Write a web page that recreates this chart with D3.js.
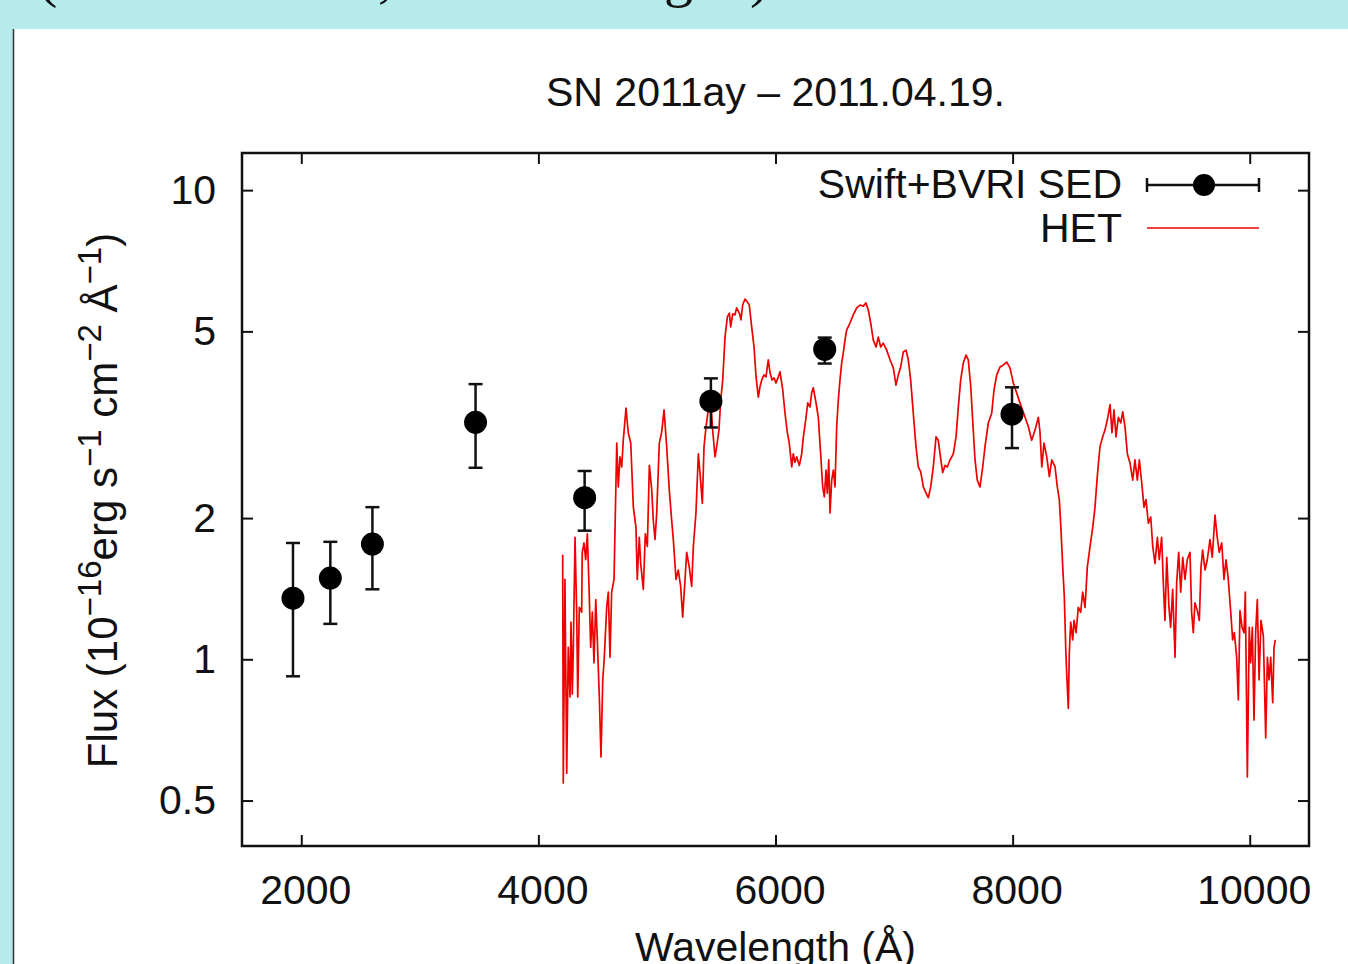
<!DOCTYPE html>
<html>
<head>
<meta charset="utf-8">
<script src="https://cdnjs.cloudflare.com/ajax/libs/d3/7.8.5/d3.min.js"></script>
<style>
  html, body { margin: 0; padding: 0; background: #b7ebeb; }
  svg { display: block; }
  text { font-family: "Liberation Sans", Arial, sans-serif; fill: #111; }
</style>
</head>
<body>
<svg width="1348" height="964"></svg>
<script>
// SED points (Swift UVOT + BVRI)
var sedWave = [1930, 2245, 2600, 3470, 4390, 5455, 6415, 7995];
var sedFlux = [1.35, 1.49, 1.76, 3.20, 2.21, 3.55, 4.58, 3.33];
var sedLow  = [0.92, 1.19, 1.41, 2.56, 1.88, 3.12, 4.27, 2.82];
var sedHigh = [1.77, 1.78, 2.11, 3.86, 2.52, 3.97, 4.85, 3.80];

// HET spectrum
var hetWave = [4205,4210,4224,4239,4252,4267,4275,4286,4294,4309,4323,4332,4345,4365,4370,4385,4399,4413,4427,4441,
  4455,4469,4484,4497,4514,4528,4543,4556,4576,4590,4604,4618,4638,4661,4674,4688,4703,4716,4739,4758,
  4779,4801,4823,4834,4851,4863,4885,4902,4919,4936,4956,4969,4984,4998,5020,5040,5060,5082,5104,5124,
  5138,5161,5180,5200,5217,5237,5251,5273,5293,5307,5329,5349,5363,5383,5397,5414,5433,5453,5470,5490,
  5504,5523,5538,5555,
  5574,5594,5611,5622,5639,5658,5672,5695,5709,5723,5743,5762,5779,5799,5819,5836,5855,5869,5884,5903,
  5920,5939,5954,5971,5988,6004,6024,6038,6061,6080,6100,6116,6137,6150,6164,6179,6201,6221,6235,6255,
  6272,6291,6305,6319,6342,6361,6381,6398,6412,6426,6437,6449,6460,6474,6488,6502,6516,6530,6544,6558,
  6572,6586,6600,6628,6656,6685,6713,6741,6763,6783,6803,6825,6848,6867,6887,6909,6938,6966,6994,7016,
  7036,7056,7078,7101,7120,7140,7162,7185,7205,7225,7247,7270,7289,7309,7331,7354,7373,7388,7410,7430,
  7449,7472,7500,7523,7542,7562,7584,7607,7626,7647,7663,7683,7702,7725,7748,7767,7795,7824,7843,7866,
  7894,7922,7950,7978,
  8006,8062,8105,8133,8161,8189,8217,8231,8246,8265,8288,8310,8330,8358,8377,8394,8408,8423,8436,8448,
  8456,8470,8478,8490,8507,8518,8535,8554,8574,8591,8611,8630,8653,8676,8695,8714,8737,8760,8779,8799,
  8822,8838,8855,8872,8892,8912,8929,8948,8968,8990,9013,9032,9052,9069,9089,9108,9125,9145,9165,9182,
  9201,9221,9237,9257,9271,9285,9300,9319,9333,9350,9370,9384,9401,9418,9435,9454,9473,9496,9510,9524,
  9538,9558,9575,9589,9603,9623,9642,9665,9684,9707,9726,9743,9764,9783,9800,9819,9840,9856,9870,9890,
  9904,9918,9935,9952,9963,9980,9996,10008,10022,10036,10050,10064,10079,10095,10115,10135,10149,10163,10177,10194,
  10205,10216];
var hetFlux = [1.67,0.545,1.48,0.572,1.06,0.831,1.20,0.843,1.03,1.82,1.26,0.831,1.29,1.26,1.69,1.77,1.63,1.85,1.43,1.06,
  1.26,0.983,1.34,1.10,0.831,0.619,0.904,1.01,1.29,1.39,1.01,1.39,1.48,2.89,2.33,2.70,2.57,2.93,3.43,3.04,
  2.89,2.11,1.91,1.48,1.82,1.60,1.41,1.85,1.74,2.59,2.30,1.98,1.80,2.05,2.89,3.05,3.40,2.84,2.30,1.98,
  1.80,1.48,1.55,1.43,1.23,1.48,1.69,1.57,1.43,1.74,2.05,2.74,2.50,2.15,2.84,3.13,3.40,3.57,3.08,2.70,
  2.84,3.08,3.57,3.94,
  4.86,5.37,5.47,5.11,5.45,5.42,5.61,5.47,5.29,5.69,5.86,5.78,5.69,5.11,4.63,4.00,3.62,3.81,3.94,4.04,
  4.00,4.35,4.08,3.94,3.98,3.88,4.00,4.10,3.75,3.35,3.04,2.89,2.57,2.74,2.63,2.70,2.59,2.74,2.98,3.24,
  3.52,3.45,3.70,3.79,3.52,3.28,2.74,2.33,2.22,2.53,2.26,2.66,2.05,2.41,2.53,2.33,3.13,3.57,3.94,4.28,
  4.50,4.79,5.03,5.21,5.42,5.61,5.69,5.66,5.75,5.55,5.21,4.79,4.63,4.86,4.63,4.72,4.56,4.35,4.18,3.84,
  4.04,4.20,4.52,4.56,4.35,3.94,3.35,2.84,2.57,2.51,2.33,2.26,2.21,2.33,2.57,2.98,2.93,2.74,2.50,2.59,
  2.57,2.66,2.74,2.98,3.45,3.94,4.28,4.45,4.35,3.81,3.24,2.66,2.41,2.33,2.57,2.84,3.19,3.35,3.75,4.04,
  4.20,4.24,4.30,4.18,
  3.88,3.52,3.28,3.13,2.93,3.08,3.28,3.05,2.57,2.89,2.70,2.45,2.66,2.57,2.33,2.19,1.89,1.57,1.36,1.06,
  0.935,0.786,1.03,1.20,1.10,1.21,1.14,1.29,1.26,1.39,1.29,1.57,1.74,1.91,2.11,2.45,2.84,2.98,3.08,3.24,
  3.49,3.04,3.40,2.98,3.28,3.19,3.37,3.13,2.74,2.62,2.41,2.66,2.41,2.66,2.38,2.11,2.19,1.95,2.01,1.74,
  1.60,1.82,1.63,1.82,1.46,1.21,1.65,1.29,1.17,1.41,1.01,1.46,1.69,1.39,1.65,1.48,1.63,1.69,1.26,1.14,
  1.32,1.27,1.21,1.57,1.71,1.55,1.63,1.80,1.65,2.03,1.82,1.69,1.77,1.48,1.63,1.48,1.26,1.10,1.14,1.01,
  0.819,1.27,1.17,1.14,1.39,0.561,1.17,0.983,1.17,0.742,1.14,1.34,0.904,1.21,1.12,0.680,1.01,0.904,1.01,0.808,
  1.06,1.10];

var xTicks = [2000, 4000, 6000, 8000, 10000];
var yTicks = [0.5, 1, 2, 5, 10];

var svg = d3.select("svg");

// slide panel
svg.append("rect").attr("x", 14).attr("y", 29).attr("width", 1334).attr("height", 935).attr("fill", "#fff");
svg.append("line").attr("x1", 13.5).attr("x2", 13.5).attr("y1", 29).attr("y2", 964)
  .attr("stroke", "#333").attr("stroke-width", 1.5);

// cut-off slide heading (only descenders visible)
var head = [["(", 38], [",", 378], ["g", 664], [")", 750]];
svg.selectAll(".head").data(head).enter().append("text")
  .attr("class", "head")
  .attr("x", d => d[1]).attr("y", -4)
  .style("font-family", "'Liberation Serif', 'DejaVu Serif', serif")
  .style("font-size", "58px")
  .text(d => d[0]);

var plotL = 242, plotR = 1309, plotT = 153, plotB = 846;

var x = d3.scaleLinear().domain([1500, 10500]).range([plotL, plotR]);
var y = d3.scaleLog().domain([0.4, 12]).range([plotB, plotT]);

var fs = 41;

// axes (gnuplot style, ticks inside, mirrored)
var gx = svg.append("g").attr("transform", `translate(0,${plotB})`)
  .call(d3.axisBottom(x).tickValues(xTicks).tickSizeInner(-11).tickSizeOuter(0).tickPadding(29).tickFormat(d3.format("d")));
gx.selectAll("text").attr("dx", 4);
var gx2 = svg.append("g").attr("transform", `translate(0,${plotT})`)
  .call(d3.axisTop(x).tickValues(xTicks).tickSizeInner(-11).tickSizeOuter(0).tickFormat(""));
var gy = svg.append("g").attr("transform", `translate(${plotL},0)`)
  .call(d3.axisLeft(y).tickValues(yTicks).tickSizeInner(-11).tickSizeOuter(0).tickPadding(26).tickFormat(d => d));
var gy2 = svg.append("g").attr("transform", `translate(${plotR},0)`)
  .call(d3.axisRight(y).tickValues(yTicks).tickSizeInner(-11).tickSizeOuter(0).tickFormat(""));

[gx, gx2, gy, gy2].forEach(function(g) {
  g.select(".domain").remove();
  g.selectAll("line").attr("stroke", "#111").attr("stroke-width", 2);
  g.selectAll("text").style("font-size", fs + "px").attr("fill", "#111")
    .style("font-family", "'Liberation Sans', Arial, sans-serif");
});

// HET spectrum
var het = d3.zip(hetWave, hetFlux);
svg.append("path")
  .datum(het)
  .attr("fill", "none")
  .attr("stroke", "#ee0000")
  .attr("stroke-width", 1.7)
  .attr("stroke-linejoin", "round")
  .attr("d", d3.line().x(d => x(d[0])).y(d => y(d[1])));

// SED points with error bars
var sed = sedWave.map((w, i) => ({w: w, f: sedFlux[i], lo: sedLow[i], hi: sedHigh[i]}));
var pts = svg.selectAll(".sed").data(sed).enter().append("g").attr("class", "sed");
pts.append("line")
  .attr("x1", d => x(d.w)).attr("x2", d => x(d.w))
  .attr("y1", d => y(d.lo)).attr("y2", d => y(d.hi))
  .attr("stroke", "#111").attr("stroke-width", 2.5);
pts.append("line")
  .attr("x1", d => x(d.w) - 7).attr("x2", d => x(d.w) + 7)
  .attr("y1", d => y(d.lo)).attr("y2", d => y(d.lo))
  .attr("stroke", "#111").attr("stroke-width", 2.5);
pts.append("line")
  .attr("x1", d => x(d.w) - 7).attr("x2", d => x(d.w) + 7)
  .attr("y1", d => y(d.hi)).attr("y2", d => y(d.hi))
  .attr("stroke", "#111").attr("stroke-width", 2.5);
pts.append("circle")
  .attr("cx", d => x(d.w)).attr("cy", d => y(d.f))
  .attr("r", 11.5).attr("fill", "#000");

// frame
svg.append("rect").attr("x", plotL).attr("y", plotT)
  .attr("width", plotR - plotL).attr("height", plotB - plotT)
  .attr("fill", "none").attr("stroke", "#111").attr("stroke-width", 2.5);

// legend
var lg = svg.append("g");
lg.append("text").attr("x", 1122).attr("y", 198).attr("text-anchor", "end")
  .style("font-size", fs + "px").text("Swift+BVRI SED");
lg.append("line").attr("x1", 1147).attr("x2", 1259).attr("y1", 185).attr("y2", 185)
  .attr("stroke", "#111").attr("stroke-width", 2.5);
[1147, 1259].forEach(function(cx) {
  lg.append("line").attr("x1", cx).attr("x2", cx).attr("y1", 178).attr("y2", 192)
    .attr("stroke", "#111").attr("stroke-width", 2.5);
});
lg.append("circle").attr("cx", 1204).attr("cy", 185).attr("r", 11).attr("fill", "#000");
lg.append("text").attr("x", 1122).attr("y", 242).attr("text-anchor", "end")
  .style("font-size", fs + "px").text("HET");
lg.append("line").attr("x1", 1147).attr("x2", 1259).attr("y1", 228).attr("y2", 228)
  .attr("stroke", "#ee0000").attr("stroke-width", 1.7);

// title
svg.append("text").attr("x", (plotL + plotR) / 2).attr("y", 106).attr("text-anchor", "middle")
  .style("font-size", fs + "px").text("SN 2011ay \u2013 2011.04.19.");

// x label
svg.append("text").attr("x", (plotL + plotR) / 2).attr("y", 961).attr("text-anchor", "middle")
  .style("font-size", fs + "px").text("Wavelength (\u00c5)");

// y label with superscripts
var yl = svg.append("text")
  .attr("transform", `translate(117,${(plotT + plotB) / 2 + 1}) rotate(-90)`)
  .attr("text-anchor", "middle")
  .style("font-size", "42px");
var parts = [["Flux (10", 0], ["\u221216", 1], ["erg s", 0], ["\u22121", 1], [" cm", 0], ["\u22122", 1], [" \u00c5", 0], ["\u22121", 1], [")", 0]];
var prevSup = 0;
parts.forEach(function(p) {
  var dy = (p[1] - prevSup) * -16;
  yl.append("tspan").attr("dy", dy).style("font-size", p[1] ? "33px" : "42px").text(p[0]);
  prevSup = p[1];
});
</script>
</body>
</html>
